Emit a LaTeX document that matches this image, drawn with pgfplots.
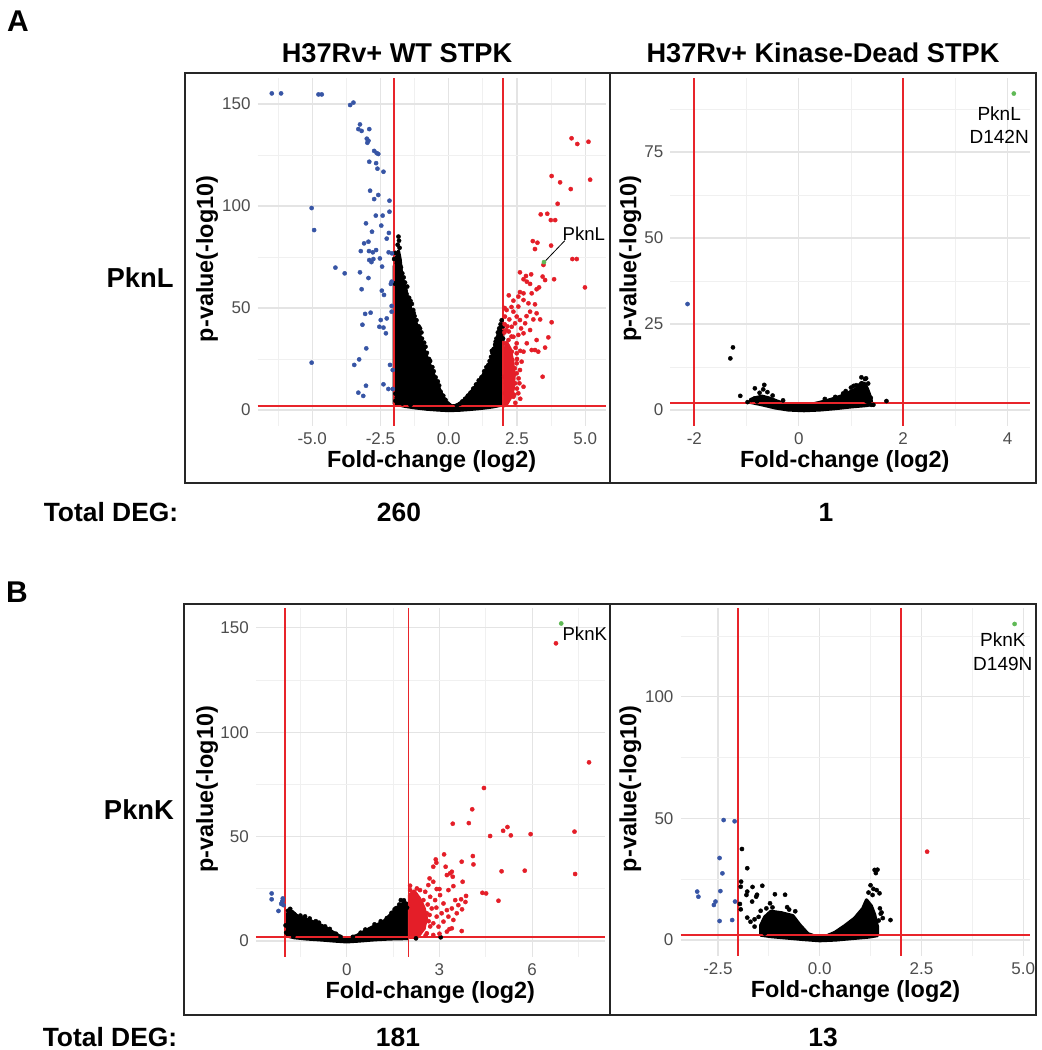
\documentclass[border=0pt]{standalone}
\usepackage{fontspec}
\setmainfont{Liberation Sans}
\usepackage{pgfplots}
\pgfplotsset{compat=1.18}
\definecolor{ptblue}{RGB}{55,85,165}
\definecolor{ptred}{RGB}{228,30,40}
\definecolor{ptgreen}{RGB}{95,185,85}
\definecolor{linered}{RGB}{232,36,42}
\definecolor{tickgray}{RGB}{77,77,77}
\definecolor{gridmaj}{RGB}{228,228,228}
\definecolor{gridmin}{RGB}{240,240,240}
\pgfplotsset{
 volcano/.style={
  scale only axis, anchor=south west, clip=false,
  axis line style={draw=none},
  major tick length=0pt, minor tick length=0pt,
  grid=both,
  major grid style={draw=gridmaj, line width=0.6pt},
  minor grid style={draw=gridmin, line width=0.35pt},
  tick label style={font=\fontsize{8.5}{10}\selectfont, text=tickgray},
  /pgf/number format/assume math mode=true,
  label style={font=\bfseries\fontsize{11.7}{14}\selectfont},
  xlabel={Fold-change (log2)}, ylabel={p-value(-log10)},
 },
 blk/.style={only marks, mark=*, mark size=1.05pt, mark options={draw=black, fill=black, line width=0.2pt}},
 blu/.style={only marks, mark=*, mark size=1.05pt, mark options={draw=ptblue, fill=ptblue, line width=0.2pt}},
 rd/.style={only marks, mark=*, mark size=1.05pt, mark options={draw=ptred, fill=ptred, line width=0.2pt}},
 grn/.style={only marks, mark=*, mark size=1.05pt, mark options={draw=ptgreen, fill=ptgreen, line width=0.2pt}},
 cloud/.style={fill=black, draw=black, line width=1.6pt, line join=round, mark=none},
 rcloud/.style={fill=ptred, draw=ptred, line width=1.6pt, line join=round, mark=none},
 thr/.style={draw=linered, line width=0.85pt, mark=none},
}
\begin{document}
\begin{tikzpicture}
\begin{scope}[x=0.5pt,y=-0.5pt]
\useasboundingbox (0,0) rectangle (1039,1050);
\draw[line width=1pt, draw=black!85] (185,73) rectangle (610,483);
\draw[line width=1pt, draw=black!85] (610,73) rectangle (1036,483);
\draw[line width=1pt, draw=black!85] (184,604) rectangle (610,1015);
\draw[line width=1pt, draw=black!85] (610,604) rectangle (1036,1015);
\node[font=\bfseries\fontsize{15}{18}\selectfont] at (18,21) {A};
\node[font=\bfseries\fontsize{15}{18}\selectfont] at (17,592) {B};
\node[font=\bfseries\fontsize{13.6}{16}\selectfont, anchor=base] at (397,62) {H37Rv+ WT STPK};
\node[font=\bfseries\fontsize{13.6}{16}\selectfont, anchor=base] at (823,62) {H37Rv+ Kinase-Dead STPK};
\node[font=\bfseries\fontsize{13.7}{16}\selectfont] at (140,278) {PknL};
\node[font=\bfseries\fontsize{13.7}{16}\selectfont] at (139,810) {PknK};
\node[font=\bfseries\fontsize{13.2}{16}\selectfont] at (111,512) {Total DEG:};
\node[font=\bfseries\fontsize{13.2}{16}\selectfont] at (399,512) {260};
\node[font=\bfseries\fontsize{13.2}{16}\selectfont] at (826,512) {1};
\node[font=\bfseries\fontsize{13.2}{16}\selectfont] at (110,1037) {Total DEG:};
\node[font=\bfseries\fontsize{13.2}{16}\selectfont] at (398,1037) {181};
\node[font=\bfseries\fontsize{13.2}{16}\selectfont] at (823,1037) {13};
\end{scope}

% ---------------- A left: PknL WT ----------------
\begin{axis}[volcano, at={(128.8pt,-212.9pt)}, width=174.05pt, height=173.9pt,
  xmin=-7.0, xmax=5.75, ymin=-7.75, ymax=162.75,
  xtick={-5,-2.5,0,2.5,5}, xticklabels={-5.0,-2.5,0.0,2.5,5.0},
  ytick={0,50,100,150}, yticklabels={0,50,100,150},
  minor xtick={-6.25,-3.75,-1.25,1.25,3.75}, minor ytick={25,75,125},
  xlabel style={at={(axis description cs:0.5,-0.104)}, anchor=center},
  ylabel style={at={(axis description cs:-0.145,0.48)}, anchor=center}]
\addplot[cloud] coordinates {
(-2.0,3) (-2.0,60) (-2.0,70) (-1.93,74) (-1.84,78) (-1.78,74) (-1.72,66) (-1.6,60) (-1.48,54)
(-1.35,48) (-1.18,42) (-1.02,35) (-0.87,28.5) (-0.67,21.5) (-0.48,15) (-0.3,9) (-0.12,4.5) (0.1,2)
(0.3,2.2) (0.54,4.5) (0.8,8.5) (1.03,12.5) (1.25,17) (1.4,20.5) (1.55,24.5) (1.66,28.5) (1.76,34)
(1.84,39) (1.94,42) (1.98,42) (1.98,2.5) (1.6,1.5) (1.2,0.8) (0.8,0.3) (0.4,-0.1) (0,-0.3)
(-0.4,0) (-0.8,0.4) (-1.2,1.0) (-1.6,1.8)} -- cycle;
\addplot[blk] coordinates {
(-1.84,85) (-1.82,83) (-1.87,81) (-1.8,79.5) (-1.95,77) (-2.0,74) (-1.9,72) (-1.75,70) (-1.7,67)
(-1.65,65) (-1.6,62.5) (-1.98,62) (-1.7,58) (-1.55,57) (-1.45,55) (-1.62,54) (-1.35,52) (-1.5,50)
(-1.3,49) (-1.25,46) (-1.18,44) (-1.2,42) (-1.05,40) (-1.0,38) (-0.98,35) (-0.9,33) (-0.85,31)
(-0.8,28) (-0.72,25) (-0.68,24) (-0.6,21) (-0.55,19) (-0.48,16) (-0.4,14) (-0.35,12) (-0.3,9)
(-0.2,7) (-0.12,5) (-1.95,4.5) (-1.85,4) (-1.7,3.2) (-1.6,4.5) (-1.95,8) (-1.9,6) (-1.4,2.5)
(-1.58,58.5) (-1.45,48) (-1.12,38) (-0.93,30) (-1.52,60.5) (-1.4,53.5) (-1.28,47.5) (-1.1,41)
(1.94,44) (1.9,42) (1.85,40) (1.8,38) (1.75,35) (1.7,32) (1.65,30) (1.6,28) (1.55,26) (1.5,24)
(1.45,22) (1.38,21) (1.3,19) (1.2,16) (1.1,14.5) (1.0,12.5) (0.9,10.5) (0.8,8.5) (0.7,7) (0.6,5.5)
(0.5,4.2) (0.4,3) (0.3,2.2) (1.98,41) (1.96,38) (1.99,35) (1.92,36) (1.72,33.5) (1.58,29)
};
\addplot[rcloud] coordinates {
(2.03,2) (2.03,28) (2.13,33) (2.25,30) (2.34,24) (2.4,17) (2.36,10) (2.26,6) (2.13,3)} -- cycle;
\addplot[rd] coordinates {
(4.50,133.2) (4.71,130.4) (5.12,131.5) (3.77,114.7) (4.08,111.6) (4.47,108.3) (5.18,112.9)
(3.99,101.1) (3.37,95.9) (3.61,96.2) (3.74,93.1) (3.90,93.1) (3.08,82.8) (3.25,82.0) (3.16,78.9)
(3.75,80.6) (4.53,74.0) (4.69,74.0) (3.47,71.1) (3.44,65.4) (3.53,63.7) (3.86,64.1) (4.99,60.1)
(3.77,43) (3.65,35.6) (3.53,30.6)
(2.12,49.0) (2.37,53.6) (2.20,56.2) (2.55,55.6) (2.61,57.8) (2.74,57.2) (2.61,67.5) (2.83,65.7)
(3.02,66.5) (2.74,64.1) (2.86,62.9) (2.98,61.8) (3.22,59.2) (3.31,60.1) (3.04,57.2) (2.74,53.9)
(2.92,52.3) (3.16,51.8) (2.98,48.2) (3.22,47.4) (3.35,44.4) (3.10,44.4) (2.55,50.7) (2.37,48.2)
(2.61,44.1) (2.06,45.8) (2.22,44.4) (2.49,45.8) (2.80,42.5) (2.98,39.2) (2.74,37.6) (3.22,34.3)
(3.28,28.6) (3.16,29.4) (3.44,16.3) (2.74,11.4) (2.59,13.1) (2.49,22.9) (2.49,18.0) (2.27,14.7)
(2.67,23.7) (2.86,32.7) (3.04,29.4) (2.49,32.7) (2.37,35.9) (2.19,34.3) (2.06,32.7) (2.12,26.1)
(2.61,19.6) (2.37,6.5) (2.55,8.2) (2.12,4.9) (2.25,9.8) (2.43,13.1) (2.06,8.2) (2.19,19.6)
(2.74,28.6) (2.55,36.8) (2.31,40.8) (2.43,42.5) (2.10,39.2) (2.10,13.1) (2.31,28.6) (2.49,27.8)
(2.25,22.9) (2.03,16.3) (2.04,38) (2.15,41) (2.65,40) (2.85,46) (2.05,50) (2.3,50.5) (2.62,29)
(2.56,15.5) (2.44,3.5) (2.62,5.5) (2.33,24.5) (2.45,30.5) (2.5,25) (2.42,20.5) (2.5,10.5)
(2.4,7.5) (2.05,42) (2.2,38.5) (2.3,36)
};
\addplot[blu] coordinates {
(-6.48,155.2) (-6.14,155.2) (-4.77,154.7) (-4.65,154.7) (-3.61,149.5) (-3.49,150.7)
(-3.25,140) (-2.91,137.7) (-3.31,137.7) (-3.19,136.8) (-3.0,133) (-2.94,132) (-2.98,131)
(-2.73,127) (-2.64,126) (-2.58,125.5) (-2.91,121.7) (-2.66,121) (-2.61,118.3) (-2.39,116.8)
(-2.88,107.5) (-2.73,103.4) (-2.58,105.4) (-2.17,102.6) (-5.02,99.0) (-4.93,88.2)
(-2.67,95.3) (-2.42,95.3) (-2.17,97.2) (-3.03,91.5) (-2.47,90.4) (-2.81,87.4) (-2.19,86.8)
(-3.1,81.7) (-2.94,82.5) (-2.27,84) (-3.22,77.9) (-2.92,77.9) (-2.78,77.3) (-2.66,78.4)
(-2.2,77.3) (-2.08,76.8) (-2.91,73.5) (-2.76,74.0) (-2.52,74.3) (-2.83,72.5)
(-4.15,69.8) (-3.81,67.0) (-3.25,67.5) (-2.44,70.3) (-2.94,64.7) (-2.09,62.9) (-2.12,61.8)
(-3.19,59.2) (-2.45,58.5) (-2.37,56.4) (-2.09,51) (-2.09,48.2) (-3.06,47.1) (-2.86,47.7)
(-2.27,44.9) (-2.49,44.1) (-3.16,41.8) (-2.54,40.8) (-2.39,40.4) (-2.3,37.6) (-3.02,30.2)
(-5.02,23.2) (-3.28,24.8) (-3.46,22.1) (-2.15,22.1) (-2.05,19.6) (-3.03,11.9) (-2.39,12.6)
(-2.21,10.3) (-2.05,10.3) (-3.31,8.5) (-3.13,6.9)
};
\addplot[grn] coordinates {(3.49,72.5)};
\addplot[thr] coordinates {(-2,-7.75) (-2,162.75)};
\addplot[thr] coordinates {(2,-7.75) (2,162.75)};
\addplot[thr] coordinates {(-7.0,2) (5.75,2)};
\draw[draw=black, line width=0.4pt] (axis cs:3.55,73.2) -- (axis cs:4.25,83);
\node[font=\fontsize{9.3}{11}\selectfont] at (axis cs:4.95,86.6) {PknL};
\end{axis}

% ---------------- A right: PknL D142N ----------------
\begin{axis}[volcano, at={(335.15pt,-212.9pt)}, width=179.85pt, height=174.05pt,
  xmin=-2.46, xmax=4.43, ymin=-4.6, ymax=96.6,
  xtick={-2,0,2,4}, xticklabels={-2,0,2,4},
  ytick={0,25,50,75}, yticklabels={0,25,50,75},
  minor xtick={-1,1,3}, minor ytick={12.5,37.5,62.5,87.5},
  xlabel style={at={(axis description cs:0.485,-0.103)}, anchor=center},
  ylabel style={at={(axis description cs:-0.111,0.48)}, anchor=center}]
\addplot[cloud] coordinates {
(-0.92,2.2) (-0.7,1.5) (-0.45,0.6) (-0.2,0) (0.1,-0.2) (0.4,0) (0.7,0.4) (1.0,0.9) (1.3,1.3)
(1.4,1.6) (1.38,3.5) (1.32,6) (1.27,7.6) (1.2,8.0) (1.1,6.2) (0.95,5.0) (0.8,4.0) (0.6,3.0)
(0.4,2.2) (0.2,1.5) (0.0,1.2) (-0.2,1.6) (-0.4,2.5) (-0.55,3.4) (-0.7,4.0) (-0.85,3.5)
(-0.92,3.0)} -- cycle;
\addplot[blk] coordinates {
(-1.26,18.2) (-1.31,15) (-1.12,4.1) (-0.84,6.3) (-0.66,7.3) (-0.91,2.9) (-0.85,3.3) (-0.98,2.3)
(-0.75,5) (-0.6,5.2) (1.68,2.6) (1.39,1.5) (1.33,7.7) (1.27,9.0) (1.29,9.2) (1.2,9.5) (1.38,3.5)
(1.43,1.5) (1.1,7.2) (1.0,6.5) (1.15,5.8) (0.9,5.5) (1.25,4.5) (1.3,2.5) (1.35,1.8) (0.7,3.8)
(0.5,3.2) (-0.5,4.2) (-0.3,2.8) (-0.7,3) (-0.8,2.5) (-0.68,6.0) (1.05,7.0) (0.85,4.8)
};
\addplot[blu] coordinates {(-2.13,30.8)};
\addplot[grn] coordinates {(4.12,92)};
\addplot[thr] coordinates {(-2,-4.6) (-2,96.6)};
\addplot[thr] coordinates {(2,-4.6) (2,96.6)};
\addplot[thr] coordinates {(-2.46,2) (4.43,2)};
\node[font=\fontsize{9.5}{11.7}\selectfont, align=center] at (axis cs:3.84,82.8) {PknL\\D142N};
\end{axis}

% ---------------- B left: PknK WT ----------------
\begin{axis}[volcano, at={(127.95pt,-478.45pt)}, width=174.45pt, height=174.55pt,
  xmin=-2.94, xmax=8.35, ymin=-7.6, ymax=159.6,
  xtick={0,3,6}, xticklabels={0,3,6},
  ytick={0,50,100,150}, yticklabels={0,50,100,150},
  minor xtick={-1.5,1.5,4.5,7.5}, minor ytick={25,75,125},
  xlabel style={at={(axis description cs:0.5,-0.103)}, anchor=center},
  ylabel style={at={(axis description cs:-0.14,0.48)}, anchor=center}]
\addplot[cloud] coordinates {
(-1.95,2.5) (-1.7,1.6) (-1.3,1.0) (-0.8,0.5) (-0.4,0) (0,-0.4) (0.4,0) (0.9,0.6) (1.4,1.0)
(1.97,1.2) (1.97,18.0) (1.78,17.8) (1.51,14.0) (1.19,9.3) (0.76,6.2) (0.32,2.6) (0.0,1.0)
(-0.11,1.3) (-0.43,4.1) (-0.755,7.1) (-1.08,9.2) (-1.40,10.9) (-1.6,12.0) (-1.75,14.0)
(-1.86,14.5) (-1.95,12) (-1.97,6)} -- cycle;
\addplot[blk] coordinates {
(-1.83,15.4) (-1.9,14.5) (-1.78,13.5) (-1.7,12.8) (-1.5,12.2) (-1.35,11.8) (-1.2,10.8)
(-1.0,9.5) (-0.9,8.8) (-0.7,7) (-0.55,5.8) (-0.35,3.5) (-0.2,2) (-1.98,7.5) (-1.96,4)
(-1.73,2.1) (1.1,9.5) (1.3,11) (1.45,13.5) (1.6,15.8) (1.7,17.5) (1.85,19.5) (1.9,18)
(1.95,16) (0.9,8) (0.6,5.5) (0.45,4) (0.2,2) (2.24,1.3) (3.04,1.8) (1.75,19.6) (1.55,15.2)
};
\addplot[rcloud] coordinates {
(2.03,1.8) (2.03,22) (2.18,24) (2.35,20.5) (2.5,16) (2.58,11) (2.5,6) (2.35,3) (2.18,1.8)} -- cycle;
\addplot[rd] coordinates {
(6.77,142.6) (7.84,85.6) (4.44,73.3) (4.06,63.1) (3.43,56.2) (3.95,56.5) (5.06,52.8) (5.20,54.6)
(5.31,50.6) (4.64,50.3) (5.95,51.2) (7.37,52.4) (3.15,41.5) (4.08,40.7) (4.10,36.7) (2.88,39.1)
(2.90,37.5) (3.72,38.0) (2.80,35.6) (3.20,35.6) (5.01,33.4) (5.76,33.7) (7.39,32.1) (3.24,31.6)
(3.40,33.2) (3.43,30.8) (3.34,32.4) (2.68,30.0) (3.75,28.4) (4.39,23.1) (4.51,22.8) (4.91,19.3)
(3.86,21.6) (3.70,20.0) (3.84,18.7) (3.73,15.2) (3.45,26.3) (3.29,24.4) (3.00,24.9) (2.91,24.9)
(3.72,4.8) (3.32,5.7) (3.40,6.1)
(2.27,25.2) (2.54,23.6) (2.48,19.6) (2.70,21.2) (2.86,19.6) (3.02,22.0) (3.13,18.0) (3.24,14.8)
(3.07,13.3) (2.91,11.7) (2.80,8.5) (2.97,6.9) (3.13,9.3) (2.75,15.6) (2.59,13.3) (2.43,10.1)
(2.48,6.1) (2.32,14.8) (2.16,13.3) (2.10,19.6) (2.21,22.0) (2.37,24.4) (2.05,24.4) (2.64,26.8)
(2.80,28.4) (3.51,19.6) (3.61,17.2) (3.56,13.3) (3.40,15.6) (3.29,11.7) (3.45,10.1) (2.59,3.7)
(2.80,2.9) (2.27,3.7) (3.24,4.5) (2.1,8) (2.9,16) (2.65,9.5) (2.2,17) (3.0,3.5) (2.62,17.5)
(2.68,12.5) (2.7,7) (2.55,2.6) (2.05,26.5)
};
\addplot[blu] coordinates {
(-2.43,22.8) (-2.43,20) (-2.1,18.4) (-2.05,17.2) (-2.07,20.4) (-2.21,14.4) (-2.08,19.2) (-2.12,17.8)};
\addplot[grn] coordinates {(6.94,152.1)};
\addplot[thr] coordinates {(-2,-7.6) (-2,159.6)};
\addplot[thr] coordinates {(2,-7.6) (2,159.6)};
\addplot[thr] coordinates {(-2.94,2) (8.35,2)};
\node[font=\fontsize{9.3}{11}\selectfont, anchor=west, inner sep=0pt] at (axis cs:6.97,147.4) {PknK};
\end{axis}

% ---------------- B right: PknK D149N ----------------
\begin{axis}[volcano, at={(340.25pt,-477.9pt)}, width=175pt, height=173.95pt,
  xmin=-3.42, xmax=5.18, ymin=-6.5, ymax=136.5,
  xtick={-2.5,0,2.5,5}, xticklabels={-2.5,0.0,2.5,5.0},
  ytick={0,50,100}, yticklabels={0,50,100},
  minor xtick={-1.25,1.25,3.75}, minor ytick={25,75,125},
  xlabel style={at={(axis description cs:0.5,-0.103)}, anchor=center},
  ylabel style={at={(axis description cs:-0.143,0.48)}, anchor=center}]
\addplot[cloud] coordinates {
(-1.45,2.0) (-1.2,1.4) (-0.8,0.8) (-0.4,0.2) (0,-0.3) (0.4,0) (0.8,0.6) (1.2,1.2) (1.42,1.8)
(1.42,5.5) (1.35,10.5) (1.27,14) (1.15,16.5) (1.06,13.0) (0.86,9.0) (0.61,5.8) (0.37,3.1)
(0.1,1.2) (-0.1,1.5) (-0.29,2.6) (-0.49,6.3) (-0.66,10.0) (-0.94,11.2) (-1.2,11.8) (-1.35,9.5)
(-1.45,6)} -- cycle;
\addplot[blk] coordinates {
(-1.91,37.4) (-1.78,29.5) (-1.93,24) (-1.94,21.9) (-1.41,22.3) (-1.65,21.8) (-1.78,19.9)
(-1.8,18.5) (-1.54,18.6) (-1.56,17.8) (-1.1,18.8) (-0.85,18.6) (-1.96,14.8) (-1.66,15.8)
(-1.22,15.1) (-1.31,13.0) (-1.16,13.4) (-1.94,12.6) (-1.78,9.2) (-1.6,5.5) (-1.35,2.7) (-1.6,8.5)
(-1.45,12) (-1.5,9.5) (-1.7,7.5) (-1.25,8) (-1.0,10) (-0.75,12.5) (-0.6,11.8) (-0.8,13.5)
(1.35,28.8) (1.42,28.9) (1.38,27.5) (1.47,19.2) (1.4,20.5) (1.32,21) (1.25,22.5) (1.3,18.5)
(1.74,8.2) (1.5,10.8) (1.52,11.3) (1.4,3.8) (1.45,8) (1.2,19.5) (1.48,13) (1.55,9)
};
\addplot[blu] coordinates {
(-2.36,49.3) (-2.09,48.8) (-2.46,33.7) (-2.39,27.4) (-3.01,19.9) (-2.98,17.8) (-2.44,20.1)
(-2.56,15.8) (-2.6,14.4) (-2.08,15.8) (-2.46,7.8) (-2.15,8.2)};
\addplot[rd] coordinates {(2.64,36.3)};
\addplot[grn] coordinates {(4.79,129.9)};
\addplot[thr] coordinates {(-2,-6.5) (-2,136.5)};
\addplot[thr] coordinates {(2,-6.5) (2,136.5)};
\addplot[thr] coordinates {(-3.42,2) (5.18,2)};
\node[font=\fontsize{9.5}{11.7}\selectfont, align=center] at (axis cs:4.5,118.5) {PknK\\D149N};
\end{axis}
\end{tikzpicture}
\end{document}
